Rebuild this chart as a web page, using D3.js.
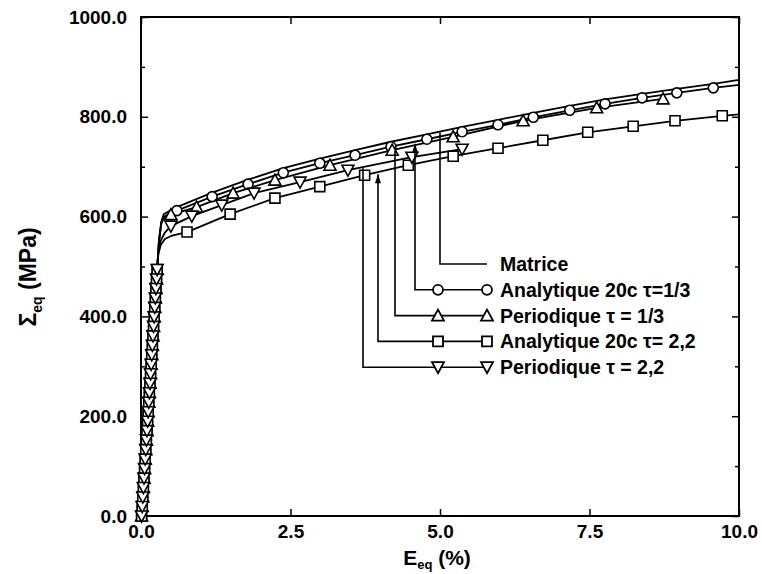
<!DOCTYPE html>
<html><head><meta charset="utf-8">
<script src="https://cdn.jsdelivr.net/npm/d3@7"></script>
<style>body{margin:0;background:#fff}svg{display:block}text{font-family:"Liberation Sans",Arial,sans-serif;fill:#000}</style>
</head><body>
<script>
// ---------- data ----------
const xTicks = [0, 2.5, 5, 7.5, 10];
const yTicks = [0, 200, 400, 600, 800, 1000];
const yMinor = [100, 300, 500, 700, 900];

// shared elastic branch (markers stacked along it)
const elasticE = [0.01,0.02,0.03,0.04,0.05,0.06,0.07,0.08,0.09,0.10,0.11,0.12,0.13,0.14,0.15,0.16,0.17,0.18,0.19,0.20,0.21,0.22,0.23,0.24,0.25,0.26,0.27];
const elasticS = [0,19,38,57,76,95,114,133,152,171,190,209,228,247,266,285,304,323,342,361,380,399,418,437,456,475,494];

// Matrice (no markers)
const matE = [0.30,0.34,0.38,0.6,1.19,1.79,2.38,2.99,3.58,4.18,4.78,5.37,5.97,6.56,7.17,7.76,8.38,8.96,9.57,10];
const matS = [551,590,605,619,648,674,697,716,733,750,765,780,794,808,822,835,846,856,866,874];

// Analytique 20c tau=1/3 (circles)
const anaLoElbowE = [0.30,0.34,0.38];
const anaLoElbowS = [551,588,600];
const anaLoE = [0.6,1.19,1.79,2.38,2.99,3.58,4.18,4.78,5.37,5.97,6.56,7.17,7.76,8.38,8.96,9.57];
const anaLoS = [612,640,665,688,707,723,740,755,770,784,799,813,826,838,848,858];
const anaLoEnd = [10, 864];

// Periodique tau=1/3 (up triangles)
const perLoElbowE = [0.30,0.34,0.38];
const perLoElbowS = [551,586,597];
const perLoE = [0.5,0.93,1.54,2.24,3.16,4.2,5.22,6.39,7.62,8.73];
const perLoS = [604,619,647,673,703,733,760,792,818,836];

// Analytique 20c tau=2,2 (squares)
const anaHiElbowE = [0.29,0.33,0.40,0.52];
const anaHiElbowS = [525,543,555,562];
const anaHiE = [0.77,1.49,2.24,2.99,3.74,4.47,5.22,5.97,6.72,7.47,8.23,8.93,9.72];
const anaHiS = [569,605,637,660,683,703,721,737,753,769,781,792,802];
const anaHiEnd = [10, 805];

// Periodique tau=2,2 (down triangles)
const perHiElbowE = [0.29,0.33,0.40];
const perHiElbowS = [528,552,568];
const perHiE = [0.5,0.85,1.35,1.89,2.66,3.46,4.53,5.37];
const perHiS = [581,601,623,647,669,693,719,735];

const legendLabels = ["Matrice","Analytique 20c \u03c4=1/3","Periodique \u03c4 = 1/3","Analytique 20c \u03c4= 2,2","Periodique \u03c4 = 2,2"];

// ---------- layout ----------
const W = 762, H = 574;
const L = 141, R = 739, T = 17, B = 516;
const x = d3.scaleLinear().domain([0,10]).range([L,R]);
const y = d3.scaleLinear().domain([0,1000]).range([B,T]);

const svg = d3.select("body").append("svg").attr("width",W).attr("height",H);

const zip = (a,b) => a.map((v,i)=>[v,b[i]]);
const el = zip(elasticE,elasticS);
const series = [
  {sym:null, pts: el.concat(zip(matE,matS)), marks: []},
  {sym:"circle", pts: el.concat(zip(anaLoElbowE,anaLoElbowS), zip(anaLoE,anaLoS), [anaLoEnd]), marks: el.concat(zip(anaLoE,anaLoS))},
  {sym:"up", pts: el.concat(zip(perLoElbowE,perLoElbowS), zip(perLoE,perLoS)), marks: el.concat(zip(perLoE,perLoS))},
  {sym:"square", pts: el.concat(zip(anaHiElbowE,anaHiElbowS), zip(anaHiE,anaHiS), [anaHiEnd]), marks: el.concat(zip(anaHiE,anaHiS))},
  {sym:"down", pts: el.concat(zip(perHiElbowE,perHiElbowS), zip(perHiE,perHiS)), marks: el.concat(zip(perHiE,perHiS))}
];

function symPath(s){
  if(s==="circle") return "M5,0A5,5 0 1,1 -5,0A5,5 0 1,1 5,0Z";
  if(s==="up") return "M0,-6L6,5L-6,5Z";
  if(s==="down") return "M0,6L6,-5L-6,-5Z";
  if(s==="square") return "M-5,-5H5V5H-5Z";
  return "";
}

// axes (ticks inward, no domain)
function styleAxis(g){ g.select(".domain").remove(); g.selectAll(".tick line").attr("stroke","#000").attr("stroke-width",1.5);
  g.selectAll("text").style("font-size","19px").style("font-weight","bold").attr("fill","#000"); }

svg.append("g").attr("transform",`translate(0,${B})`)
  .call(d3.axisBottom(x).tickValues(xTicks).tickSize(-7).tickPadding(9).tickFormat(d3.format(".1f"))).call(styleAxis);
svg.append("g").attr("transform",`translate(0,${T})`)
  .call(d3.axisTop(x).tickValues(xTicks).tickSize(-7).tickFormat("")).call(styleAxis);
svg.append("g").attr("transform",`translate(${L},0)`)
  .call(d3.axisLeft(y).tickValues(yTicks).tickSize(-7).tickPadding(14).tickFormat(d3.format(".1f"))).call(styleAxis);
svg.append("g").attr("transform",`translate(${L},0)`)
  .call(d3.axisLeft(y).tickValues(yMinor).tickSize(-4).tickFormat("")).call(styleAxis);
svg.append("g").attr("transform",`translate(${R},0)`)
  .call(d3.axisRight(y).tickValues(yTicks).tickSize(-7).tickFormat("")).call(styleAxis);
svg.append("g").attr("transform",`translate(${R},0)`)
  .call(d3.axisRight(y).tickValues(yMinor).tickSize(-4).tickFormat("")).call(styleAxis);

// frame
svg.append("rect").attr("x",L).attr("y",T).attr("width",R-L).attr("height",B-T)
  .attr("fill","none").attr("stroke","#000").attr("stroke-width",2);

// axis titles
const yt = svg.append("text").attr("transform","translate(36,277) rotate(-90)")
  .attr("text-anchor","middle").style("font-size","23px").style("font-weight","bold");
yt.append("tspan").text("\u03a3");
yt.append("tspan").attr("dy",6).style("font-size","14px").text("eq");
yt.append("tspan").attr("dy",-6).text(" (MPa)");
const xt = svg.append("text").attr("x",437).attr("y",565)
  .attr("text-anchor","middle").style("font-size","21px").style("font-weight","bold");
xt.append("tspan").text("E");
xt.append("tspan").attr("dy",4).style("font-size","13px").text("eq");
xt.append("tspan").attr("dy",-4).text(" (%)");

// curves
const lineLin = d3.line().x(d=>x(d[0])).y(d=>y(d[1]));
series.forEach(s=>{
  svg.append("path").attr("d",lineLin(s.pts)).attr("fill","none").attr("stroke","#000").attr("stroke-width",1.8);
});
series.forEach(s=>{
  if(!s.sym) return;
  svg.append("g").selectAll("path").data(s.marks).join("path")
    .attr("transform",d=>`translate(${x(d[0])},${y(d[1])})`)
    .attr("d",symPath(s.sym)).attr("fill","#fff").attr("stroke","#000").attr("stroke-width",1.6);
});

// legend with leader lines
function interp(pts, e){
  for(let i=1;i<pts.length;i++){ if(pts[i][0]>=e){ const a=pts[i-1], b=pts[i]; return a[1]+(b[1]-a[1])*(e-a[0])/(b[0]-a[0]); } }
  return pts[pts.length-1][1];
}
const leadX = [440,415,395,378,363];
const rowY0 = 264, rowDy = 25.8;
const mk1 = 438, mk2 = 487, textX = 500;
legendLabels.forEach((lab,i)=>{
  const s = series[i];
  const ry = rowY0 + i*rowDy;
  const lx = leadX[i];
  const topY = y(interp(s.pts, x.invert(lx))) + (i===1||i===3 ? 2 : 1);
  svg.append("path").attr("d",`M${lx},${topY}V${ry}H${mk2}`)
    .attr("fill","none").attr("stroke","#000").attr("stroke-width",1.6);
  if(i===1||i===3){
    svg.append("path").attr("d",`M${lx},${topY}l-3,9h6z`).attr("fill","#000");
  }
  if(s.sym){
    [mk1,mk2].forEach(mx=>{
      svg.append("path").attr("transform",`translate(${mx},${ry})`).attr("d",symPath(s.sym))
        .attr("fill","#fff").attr("stroke","#000").attr("stroke-width",1.8);
    });
  }
  svg.append("text").attr("x",textX).attr("y",ry).attr("dy","0.36em")
    .style("font-size","19.5px").style("font-weight","bold").text(lab);
});
</script>
</body></html>
